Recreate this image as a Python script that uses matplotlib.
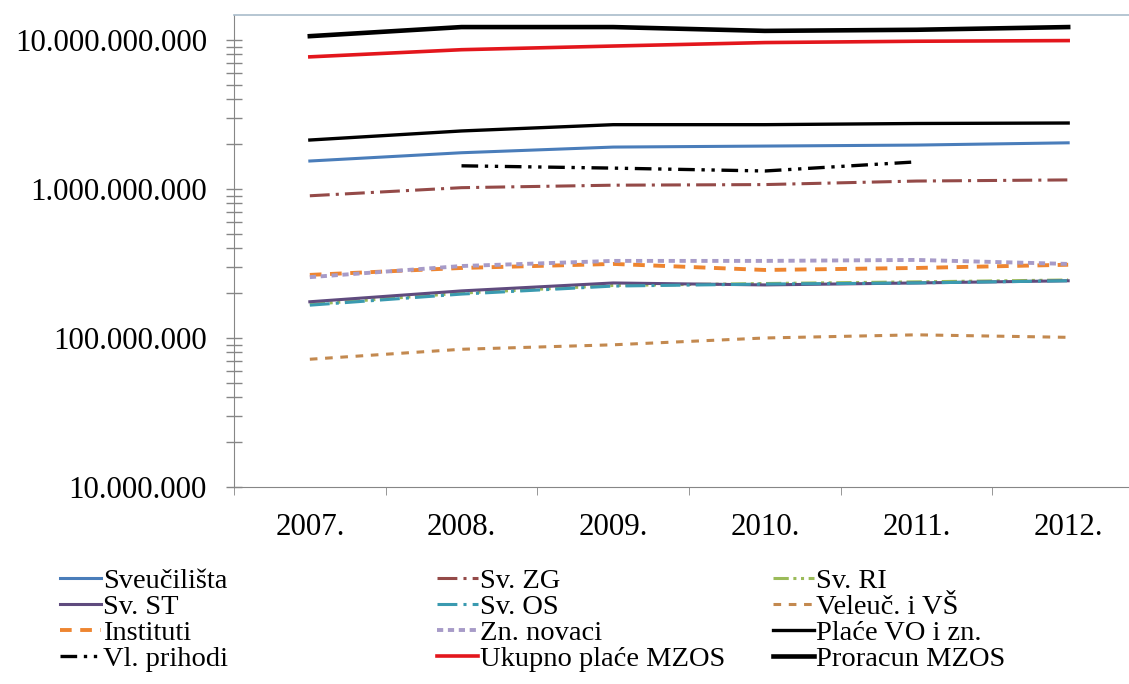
import matplotlib
matplotlib.use("Agg")
import matplotlib.pyplot as plt
import numpy as np
from matplotlib.ticker import FixedLocator, FuncFormatter, LogLocator, NullFormatter

plt.rcParams["font.family"] = ["Liberation Serif", "DejaVu Serif"]

years = ["2007.", "2008.", "2009.", "2010.", "2011.", "2012."]

sveucilista = [1.54e9, 1.75e9, 1.91e9, 1.94e9, 1.97e9, 2.04e9]
sv_zg = [0.90e9, 1.02e9, 1.06e9, 1.07e9, 1.13e9, 1.15e9]
sv_ri = [1.68e8, 2.00e8, 2.25e8, 2.32e8, 2.38e8, 2.45e8]
sv_st = [1.75e8, 2.07e8, 2.34e8, 2.27e8, 2.34e8, 2.42e8]
sv_os = [1.66e8, 1.97e8, 2.23e8, 2.30e8, 2.34e8, 2.42e8]
veleuc = [7.2e7, 8.4e7, 9.0e7, 1.0e8, 1.05e8, 1.01e8]
instituti = [2.65e8, 2.95e8, 3.14e8, 2.86e8, 2.95e8, 3.10e8]
zn_novaci = [2.56e8, 3.04e8, 3.29e8, 3.29e8, 3.34e8, 3.14e8]
place_vo = [2.13e9, 2.45e9, 2.70e9, 2.70e9, 2.75e9, 2.77e9]
vl_prihodi = [np.nan, 1.43e9, 1.38e9, 1.32e9, 1.52e9, np.nan]
ukupno_place = [7.7e9, 8.6e9, 9.1e9, 9.6e9, 9.8e9, 9.9e9]
proracun = [1.06e10, 1.22e10, 1.22e10, 1.15e10, 1.17e10, 1.22e10]

# (label, data, color, linewidth, dash)
series = [
    ("Sveučilišta", sveucilista, "#4A7DBA", 2.2, "-"),
    ("Sv. ZG", sv_zg, "#944A48", 2.2, (0, (6.5, 2, 1, 2))),
    ("Sv. RI", sv_ri, "#9BBB59", 2.2, (0, (5, 1.5, 1, 1.5, 1, 1.5))),
    ("Sv. ST", sv_st, "#5F4B7E", 2.2, "-"),
    ("Sv. OS", sv_os, "#3A9AB0", 2.2, (0, (6.5, 2, 1, 2))),
    ("Veleuč. i VŠ", veleuc, "#C3894F", 2.2, (0, (2.5, 2.5))),
    ("Instituti", instituti, "#EE8530", 2.8, (0, (3, 2.2))),
    ("Zn. novaci", zn_novaci, "#A79BC8", 2.8, (0, (1.6, 1.2))),
    ("Plaće VO i zn.", place_vo, "black", 2.4, "-"),
    ("Vl. prihodi", vl_prihodi, "black", 2.4, (0, (5, 2, 1, 2, 1, 2))),
    ("Ukupno plaće MZOS", ukupno_place, "#E3161C", 2.6, "-"),
    ("Proracun MZOS", proracun, "black", 3.3, "-"),
]

fig = plt.figure(figsize=(11.29, 6.84), dpi=100)
ax = fig.add_axes([234 / 1129, 197 / 684, 910 / 1129, 472 / 684])

x = np.arange(len(years))
handles = {}
for label, data, color, lw, ls in series:
    line, = ax.plot(x, data, color=color, linewidth=lw, linestyle=ls, label=label)
    handles[label] = line

ax.set_yscale("log")
ax.set_ylim(1e7, 1.47e10)
ax.set_xlim(-0.5, 5.5)

ax.yaxis.set_major_locator(FixedLocator([1e7, 1e8, 1e9, 1e10]))
ax.yaxis.set_major_formatter(FuncFormatter(lambda v, p: f"{int(round(v)):,}".replace(",", ".")))
ax.yaxis.set_minor_locator(LogLocator(base=10, subs=np.arange(2, 10)))
ax.yaxis.set_minor_formatter(NullFormatter())

ax.set_xticks(x)
ax.set_xticklabels(years)
ax.set_xticks(np.arange(-0.5, 6), minor=True)
ax.tick_params(axis="x", which="major", length=0, pad=19, labelsize=22.3)
ax.tick_params(axis="x", which="minor", direction="out", length=6, color="#868686")
ax.tick_params(axis="y", which="both", direction="inout", length=11, color="#868686", width=1)
ax.tick_params(axis="y", which="major", pad=14, labelsize=22.3)

for side in ["left", "bottom"]:
    ax.spines[side].set_color("#868686")
ax.spines["top"].set_color("#A9BCCB")
ax.spines["top"].set_linewidth(1.2)
ax.spines["right"].set_visible(False)

columns = [
    (["Sveučilišta", "Sv. ST", "Instituti", "Vl. prihodi"], 60),
    (["Sv. ZG", "Sv. OS", "Zn. novaci", "Ukupno plaće MZOS"], 437),
    (["Sv. RI", "Veleuč. i VŠ", "Plaće VO i zn.", "Proracun MZOS"], 773),
]
for labels, xpix in columns:
    fig.legend([handles[l] for l in labels], labels,
               loc="upper left", bbox_to_anchor=(xpix / 1129, 1 - 568 / 684),
               frameon=False, fontsize=20.5, handlelength=1.45, handletextpad=0.05,
               borderpad=0, borderaxespad=0, labelspacing=0.0)

fig.savefig("out.png", dpi=100)
